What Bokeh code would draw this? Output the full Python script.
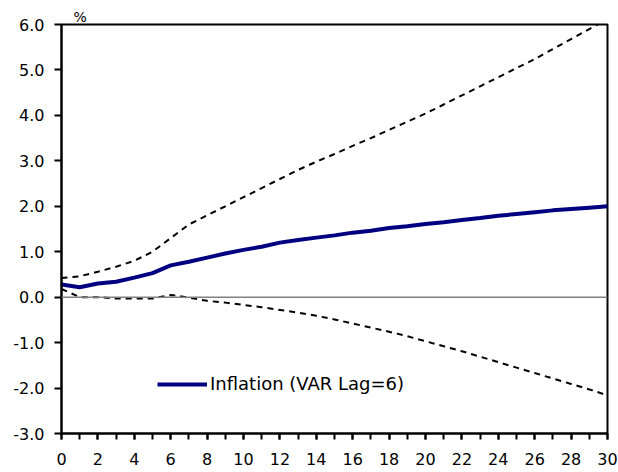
from bokeh.plotting import figure
from bokeh.models import FixedTicker, PrintfTickFormatter, Span, Title, Legend, LegendItem, Range1d
from bokeh.embed import file_html
from bokeh.resources import INLINE

horizon = list(range(0, 31))
inflation = [0.28, 0.22, 0.30, 0.34, 0.43, 0.53, 0.70, 0.78, 0.87, 0.96, 1.04,
             1.11, 1.20, 1.26, 1.31, 1.36, 1.42, 1.46, 1.52, 1.56, 1.61,
             1.65, 1.70, 1.74, 1.79, 1.83, 1.87, 1.91, 1.94, 1.97, 2.00]
upper = [0.42, 0.46, 0.56, 0.67, 0.80, 1.00, 1.30, 1.60, 1.80, 2.00, 2.20,
         2.40, 2.60, 2.80, 2.98, 3.15, 3.33, 3.50, 3.68, 3.86, 4.04,
         4.24, 4.44, 4.64, 4.84, 5.04, 5.24, 5.46, 5.68, 5.90, 6.12]
lower = [0.18, 0.00, 0.00, -0.03, -0.03, -0.03, 0.05, -0.01, -0.08, -0.12, -0.17,
         -0.22, -0.28, -0.34, -0.41, -0.49, -0.58, -0.67, -0.76, -0.86, -0.97,
         -1.08, -1.19, -1.31, -1.43, -1.55, -1.67, -1.79, -1.91, -2.03, -2.16]
x_labels = list(range(0, 31, 2))
y_ticks = [-3, -2, -1, 0, 1, 2, 3, 4, 5, 6]
series_label = "Inflation (VAR Lag=6)"
unit_label = "%"

FONT = "DejaVu Sans"

p = figure(width=618, height=472, output_backend="svg", toolbar_location=None,
           x_range=Range1d(0, 30), y_range=Range1d(-3, 6),
           min_border_left=61, min_border_right=11, min_border_top=24, min_border_bottom=39)
p.xgrid.visible = False
p.ygrid.visible = False
p.outline_line_color = "black"
p.outline_line_width = 2
p.background_fill_color = "white"
p.border_fill_color = "white"

p.add_layout(Span(location=0, dimension="width", line_color="#808080", line_width=1.5))

p.line(horizon, upper, line_color="black", line_width=2, line_dash="6 5")
p.line(horizon, lower, line_color="black", line_width=2, line_dash="6 5")
r = p.line(horizon, inflation, line_color="#000080", line_width=4)

# axes
xa = p.xaxis[0]
xa.ticker = FixedTicker(ticks=x_labels, minor_ticks=horizon)
xa.axis_line_color = "black"
xa.axis_line_width = 2
xa.major_tick_line_color = "black"
xa.major_tick_line_width = 2
xa.major_tick_in = 0
xa.major_tick_out = 6
xa.minor_tick_line_color = "black"
xa.minor_tick_line_width = 2
xa.minor_tick_in = 0
xa.minor_tick_out = 6
xa.major_label_text_font = FONT
xa.major_label_text_font_size = "16px"
xa.major_label_text_color = "black"
xa.major_label_standoff = 13

ya = p.yaxis[0]
ya.ticker = FixedTicker(ticks=y_ticks, minor_ticks=[])
ya.formatter = PrintfTickFormatter(format="%.1f")
ya.axis_line_color = "black"
ya.axis_line_width = 2
ya.major_tick_line_color = "black"
ya.major_tick_line_width = 2
ya.major_tick_in = 0
ya.major_tick_out = 7
ya.minor_tick_line_color = None
ya.major_label_text_font = FONT
ya.major_label_text_font_size = "16px"
ya.major_label_text_color = "black"
ya.major_label_standoff = 10

p.add_layout(Title(text=unit_label, align="left", offset=12, standoff=0,
                   text_font=FONT, text_font_size="14px", text_font_style="normal",
                   text_color="black"), "above")

legend = Legend(items=[LegendItem(label=series_label, renderers=[r])],
                location=(96, 39), padding=0, margin=0, border_line_color=None,
                background_fill_alpha=0, glyph_width=50, glyph_height=20, label_height=20,
                label_standoff=3, label_text_font=FONT, label_text_font_size="18px",
                label_text_color="black")
p.add_layout(legend)

open("out.html", "w").write(file_html(p, INLINE))
